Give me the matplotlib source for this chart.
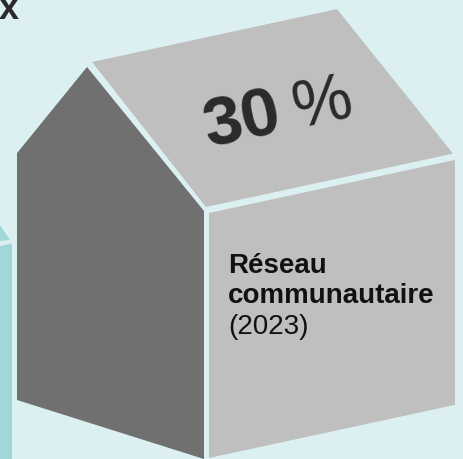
import numpy as np
import matplotlib.pyplot as plt
from matplotlib.patches import Polygon

plt.rcParams['font.family'] = ['Liberation Sans', 'DejaVu Sans']

# data
share_value = 30
share_unit = "%"
label_lines = ["Réseau", "communautaire"]
label_year = "(2023)"
title_tail = "x"

# colours
bg = "#dcf0f2"
dark = "#707070"
light = "#bfbfbf"
teal = "#a1d7d9"
ink = "#2a2a2a"

# house geometry (pixel space, y down)
slope = -0.216           # rise of the front/roof edges per px
front_l, front_r = 209, 455
front_top = 214
front_h = 245
gap = 5
side_l = 17
apex = (87, 68)

fig = plt.figure(figsize=(4.64, 4.60), dpi=100)
fig.patch.set_facecolor(bg)
ax = fig.add_axes([0, 0, 1, 1])
ax.set_xlim(0, 464)
ax.set_ylim(460, 0)
ax.axis('off')
ax.set_facecolor(bg)

# front face
w = front_r - front_l
front = [(front_l, front_top), (front_r, front_top + slope * w),
         (front_r, front_top + slope * w + front_h), (front_l, front_top + front_h)]
ax.add_patch(Polygon(front, closed=True, fc=light, ec='none'))

# gable side (dark)
side_r = front_l - gap
gx = np.array([apex[0], side_r, side_r, side_l, side_l])
k = (front_top - 2 - apex[1]) / (side_r - apex[0])
gy = np.array([apex[1], apex[1] + k * (side_r - apex[0]),
               460, 401, apex[1] + k * (apex[0] - side_l)])
ax.add_patch(Polygon(np.c_[gx, gy], closed=True, fc=dark, ec='none'))

# roof
r0 = (apex[0] + gap, apex[1] - 5)
r3 = (side_r + 2, apex[1] + k * (side_r - apex[0]) - 4)
run = 245
r1 = (r0[0] + run, r0[1] + slope * run)
r2 = (r3[0] + run + 2, r3[1] + slope * (run + 2))
ax.add_patch(Polygon([r0, r1, r2, r3], closed=True, fc=light, ec='none'))

# neighbour house cut at the left edge
ax.add_patch(Polygon([(0, 226), (10, 241), (0, 242)], closed=True, fc=teal, ec='none'))
ax.add_patch(Polygon([(0, 247), (12, 244.5), (12, 460), (0, 460)], closed=True, fc=teal, ec='none'))

# texts
ang = np.degrees(np.arctan(-slope))
bx, by = 208, 148
ax.text(bx, by, str(share_value), fontsize=50, fontweight='bold', color=ink,
        rotation=ang, rotation_mode='anchor', ha='left', va='baseline')
d = 92
ax.text(bx + d * np.cos(np.radians(ang)), by - d * np.sin(np.radians(ang)),
        share_unit, fontsize=48, color=ink,
        rotation=ang, rotation_mode='anchor', ha='left', va='baseline')

tx = 228
ax.text(tx, 273, label_lines[0], fontsize=20, fontweight='bold', color='#111111',
        ha='left', va='baseline')
ax.text(tx, 303, label_lines[1], fontsize=20, fontweight='bold', color='#111111',
        ha='left', va='baseline')
ax.text(tx, 334, label_year, fontsize=20, color='#111111', ha='left', va='baseline')

ax.text(19, 19, title_tail, fontsize=26, fontweight='bold', color=ink,
        ha='right', va='baseline')

fig.savefig('out.png', dpi=100, facecolor=bg)
